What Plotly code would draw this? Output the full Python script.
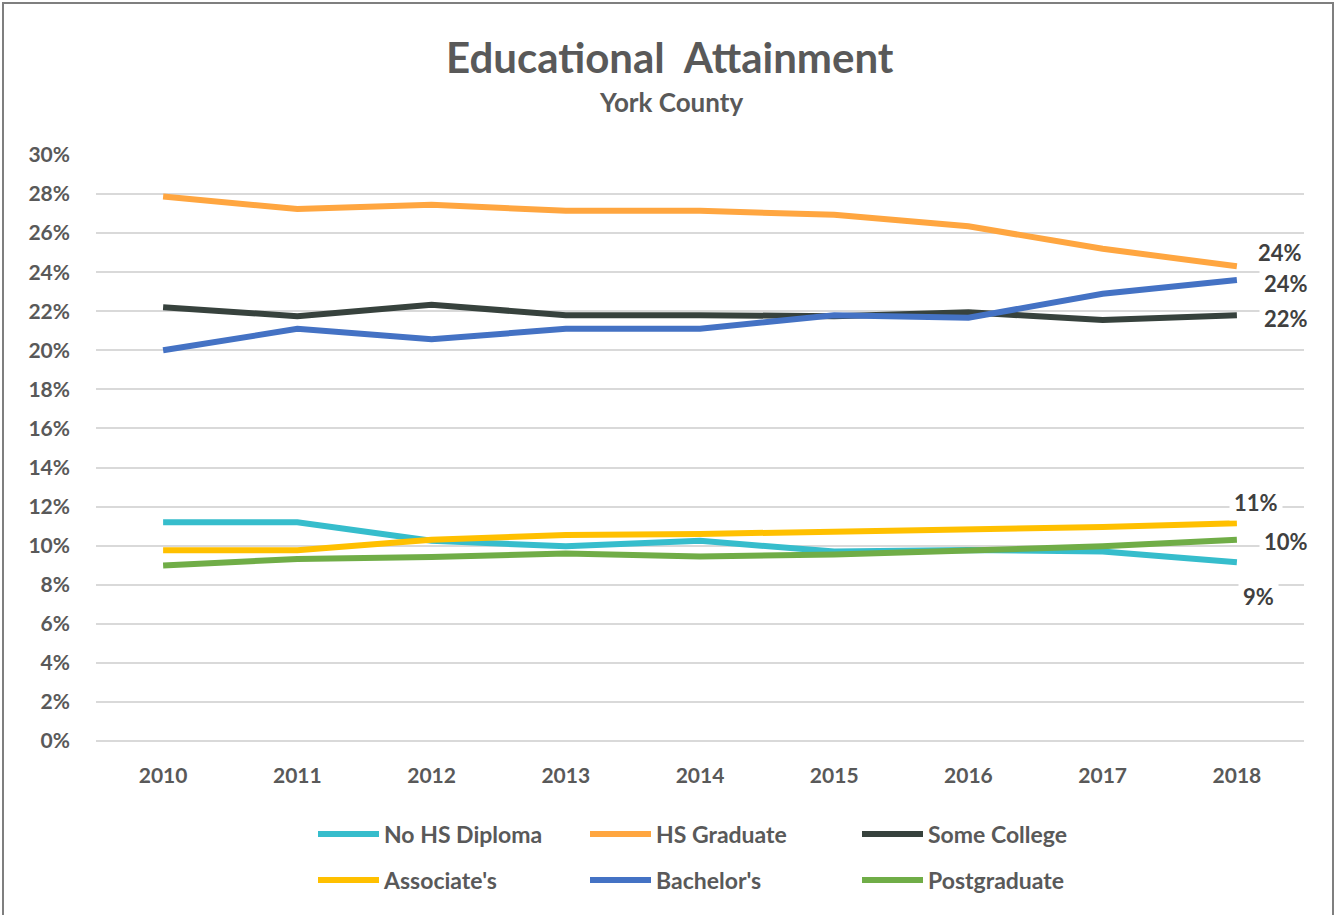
import plotly.graph_objects as go

years = ["2010", "2011", "2012", "2013", "2014", "2015", "2016", "2017", "2018"]

no_hs_diploma = [11.2, 11.2, 10.25, 9.97, 10.25, 9.7, 9.78, 9.7, 9.15]
hs_graduate = [27.87, 27.23, 27.45, 27.14, 27.14, 26.94, 26.35, 25.2, 24.3]
some_college = [22.2, 21.75, 22.33, 21.8, 21.8, 21.75, 21.95, 21.55, 21.8]
associates = [9.76, 9.76, 10.3, 10.55, 10.6, 10.7, 10.85, 10.95, 11.15]
bachelors = [20.0, 21.1, 20.57, 21.1, 21.1, 21.8, 21.67, 22.9, 23.6]
postgraduate = [8.98, 9.32, 9.42, 9.6, 9.45, 9.55, 9.75, 9.97, 10.3]

# name, values, colour, legend row, end-label offset (x px, y px)
series = [
    ("No HS Diploma", no_hs_diploma, "#36BDCC", "legend", (5, -34)),
    ("HS Graduate", hs_graduate, "#FFA640", "legend", (20, 14)),
    ("Some College", some_college, "#37423D", "legend", (26, -3)),
    ("Associate's", associates, "#FFC000", "legend2", (-4, 21)),
    ("Bachelor's", bachelors, "#4472C4", "legend2", (26, -3)),
    ("Postgraduate", postgraduate, "#70AD47", "legend2", (26, -2)),
]

FONT = "Lato"
GREY = "#595959"
W, H = 1336, 915
L, R, T, B = 96, 1304, 155, 741  # plot-area pixel edges


def px_x(p):
    return (p - L) / (R - L)


def px_y(p):
    return (B - p) / (B - T)


fig = go.Figure()
annotations = []
last = len(years) - 1
for name, vals, color, leg, (xs, ys) in series:
    yv = [v / 100 for v in vals]
    fig.add_trace(go.Scatter(
        x=years, y=yv, name=name, mode="lines", legend=leg,
        line=dict(color=color, width=6),
        hoverinfo="skip",
    ))
    annotations.append(dict(
        x=last, y=yv[-1], xref="x", yref="y",
        text=f"{round(vals[-1])}%", showarrow=False,
        xanchor="left", yanchor="middle", xshift=xs - 4, yshift=ys,
        bgcolor="white", borderpad=4,
        font=dict(family=FONT, size=22, color="#404040", weight="bold"),
    ))

annotations += [
    dict(text="Educational  Attainment", x=px_x(670), y=px_y(57), xref="paper", yref="paper",
         xanchor="center", yanchor="middle", showarrow=False,
         font=dict(family=FONT, size=42, color=GREY, weight="bold")),
    dict(text="York County", x=px_x(671), y=px_y(102), xref="paper", yref="paper",
         xanchor="center", yanchor="middle", showarrow=False,
         font=dict(family=FONT, size=26, color=GREY, weight="bold")),
]

legend_common = dict(
    orientation="h", xanchor="left", yanchor="middle",
    font=dict(family=FONT, size=23, color=GREY, weight="bold"),
    itemwidth=61, entrywidth=196, entrywidthmode="pixels",
    traceorder="normal", bgcolor="rgba(0,0,0,0)",
)

fig.update_layout(
    width=W, height=H,
    margin=dict(l=L, r=W - R, t=T, b=H - B, autoexpand=False),
    paper_bgcolor="white", plot_bgcolor="white",
    font=dict(family=FONT, color=GREY),
    showlegend=True,
    legend=dict(x=px_x(313), y=px_y(834), **legend_common),
    legend2=dict(x=px_x(313), y=px_y(880), **legend_common),
    annotations=annotations,
    shapes=[dict(type="rect", xref="paper", yref="paper",
                 x0=px_x(3), x1=px_x(1333), y0=px_y(925), y1=px_y(3),
                 line=dict(color="#7f7f7f", width=2), layer="below")],
)

fig.update_xaxes(
    type="category", range=[-0.5, 8.5], showgrid=False, zeroline=False,
    showline=False, ticks="", ticklabelstandoff=20,
    tickfont=dict(family=FONT, size=21, color=GREY, weight="bold"),
)
fig.update_yaxes(
    range=[0, 0.30], dtick=0.02, tickformat=".0%", showgrid=True,
    gridcolor="#D9D9D9", gridwidth=1.5, zeroline=True, zerolinecolor="#D9D9D9",
    zerolinewidth=1.5, showline=False, ticks="", ticklabelstandoff=25,
    tickfont=dict(family=FONT, size=21, color=GREY, weight="bold"),
)

fig.write_html("out.html")
